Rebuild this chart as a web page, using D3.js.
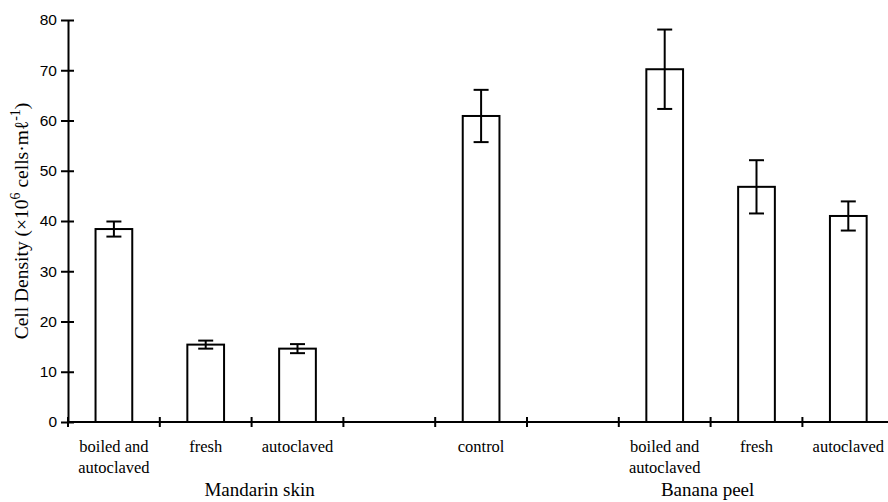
<!DOCTYPE html>
<html>
<head>
<meta charset="utf-8">
<script src="https://cdn.jsdelivr.net/npm/d3@7"></script>
<style>
  html, body { margin: 0; padding: 0; background: #fff; }
  svg { display: block; }
</style>
</head>
<body>
<svg id="chart" width="888" height="502"></svg>
<script>
// ---- data ----
const slots = ["s0", "s1", "s2", "s3", "s4", "s5", "s6", "s7", "s8"];
const categoryLabels = [
  ["boiled and", "autoclaved"], ["fresh"], ["autoclaved"], [],
  ["control"], [],
  ["boiled and", "autoclaved"], ["fresh"], ["autoclaved"]
];
const values = [38.4, 15.4, 14.6, null, 60.9, null, 70.2, 46.8, 41.0];
const errors = [1.5, 0.8, 0.9, null, 5.2, null, 7.9, 5.3, 2.9];
const groupNames = ["Mandarin skin", "Banana peel"];
const yTicks = [0, 10, 20, 30, 40, 50, 60, 70, 80];

// ---- layout ----
const svg = d3.select("#chart");
const mLeft = 68, mTop = 20, mBottom = 422;
const step = 91.8;
const x = d3.scaleBand().domain(slots).range([mLeft, mLeft + step * slots.length]).padding(0);
const y = d3.scaleLinear().domain([0, 80]).range([mBottom, mTop]);
const barW = x.bandwidth() * 0.4;
const capW = 15;

const rows = slots.map((s, i) => ({ slot: s, v: values[i], e: errors[i], lab: categoryLabels[i] }));
const barRows = rows.filter(d => d.v != null);

// bars
svg.append("g").selectAll("rect").data(barRows).join("rect")
  .attr("x", d => x(d.slot) + (x.bandwidth() - barW) / 2)
  .attr("y", d => y(d.v))
  .attr("width", barW)
  .attr("height", d => y(0) - y(d.v))
  .attr("fill", "#fff")
  .attr("stroke", "#000")
  .attr("stroke-width", 2);

// error bars
const eg = svg.append("g").attr("stroke", "#000").attr("stroke-width", 2);
barRows.forEach(d => {
  const cx = x(d.slot) + x.bandwidth() / 2;
  eg.append("line").attr("x1", cx).attr("x2", cx).attr("y1", y(d.v + d.e)).attr("y2", y(d.v - d.e));
  eg.append("line").attr("x1", cx - capW / 2).attr("x2", cx + capW / 2).attr("y1", y(d.v + d.e)).attr("y2", y(d.v + d.e));
  eg.append("line").attr("x1", cx - capW / 2).attr("x2", cx + capW / 2).attr("y1", y(d.v - d.e)).attr("y2", y(d.v - d.e));
});

// y axis
const yAxis = d3.axisLeft(y).tickValues(yTicks).tickSize(0).tickPadding(11);
const ya = svg.append("g").attr("transform", `translate(${mLeft},0)`).call(yAxis);
ya.select(".domain").attr("stroke", "#000").attr("stroke-width", 2);
ya.selectAll(".tick text").attr("font-family", "Liberation Sans, Arial, sans-serif").attr("font-size", 15.5).attr("fill", "#000");
ya.selectAll(".tick").append("line").attr("x1", -7).attr("x2", 6).attr("stroke", "#000").attr("stroke-width", 2);

// x axis
const xa = svg.append("g").attr("transform", `translate(0,${mBottom})`);
xa.append("line").attr("x1", mLeft).attr("x2", mLeft + step * slots.length).attr("stroke", "#000").attr("stroke-width", 2);
xa.selectAll("line.tk").data(slots).join("line").attr("class", "tk")
  .attr("x1", d => x(d)).attr("x2", d => x(d)).attr("y1", -5).attr("y2", 5)
  .attr("stroke", "#000").attr("stroke-width", 2);

// category labels
const cl = svg.append("g").attr("font-family", "Liberation Serif, Times New Roman, serif").attr("font-size", 16.5).attr("fill", "#000").attr("text-anchor", "middle");
rows.forEach(d => {
  d.lab.forEach((t, j) => {
    cl.append("text").attr("x", x(d.slot) + x.bandwidth() / 2).attr("y", 452 + j * 21).text(t);
  });
});

// group labels
const groupX = [x("s2") + 8, x("s7") - 3];
svg.append("g").selectAll("text").data(groupNames).join("text")
  .attr("x", (d, i) => groupX[i]).attr("y", 496)
  .attr("text-anchor", "middle")
  .attr("font-family", "Liberation Serif, Times New Roman, serif").attr("font-size", 19)
  .text(d => d);

// y title
const yt = svg.append("text")
  .attr("transform", `translate(28,${(mTop + mBottom) / 2}) rotate(-90)`)
  .attr("text-anchor", "middle")
  .attr("font-family", "Liberation Serif, Times New Roman, serif").attr("font-size", 19.5);
yt.append("tspan").text("Cell Density (\u00D710");
yt.append("tspan").attr("dy", -8).attr("font-size", 14).text("6");
yt.append("tspan").attr("dy", 8).text(" cells\u00B7m\u2113");
yt.append("tspan").attr("dy", -8).attr("font-size", 14).text("-1");
yt.append("tspan").attr("dy", 8).text(")");
</script>
</body>
</html>
